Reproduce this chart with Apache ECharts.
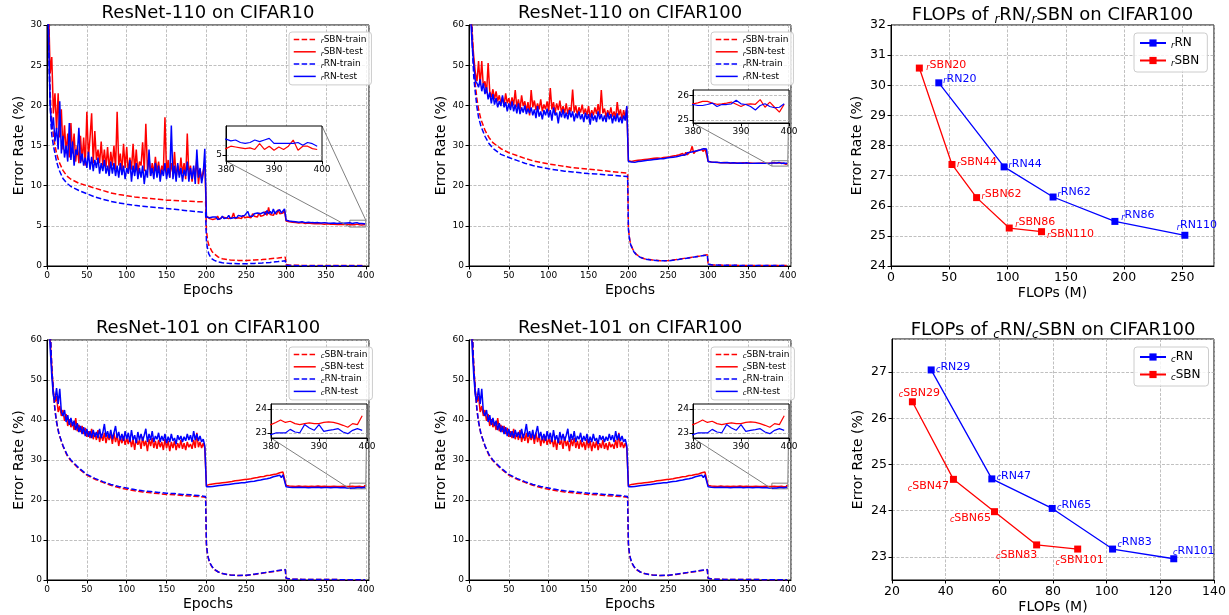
<!DOCTYPE html>
<html><head><meta charset="utf-8">
<script src="https://cdn.jsdelivr.net/npm/echarts@6/dist/echarts.min.js"></script>
<style>html,body{margin:0;padding:0;background:#fff}#c{width:1229px;height:615px}</style>
</head><body><div id="c"></div><script>
const FONT = 'DejaVu Sans';
const RED = '#ff0000', BLUE = '#0000ff';

// ---------- epochs (x categories) ----------
const TEST_EPOCHS = [];
for (let e = 0; e < 200; e += 2) TEST_EPOCHS.push(e);
for (let e = 200; e < 300; e += 2) TEST_EPOCHS.push(e);
for (let e = 300; e < 380; e += 4) TEST_EPOCHS.push(e);
for (let e = 380; e < 400; e++) TEST_EPOCHS.push(e);
const TRAIN_EPOCHS = [0,1,2,3,4,5,6,8,10,12,15,20,25,30,40,50,60,70,80,90,100,110,120,130,140,150,160,170,180,190,199,200,201,202,203,205,207,210,215,220,230,240,250,260,270,280,290,299,300,301,305,320,340,360,380,399];

// ---------- ResNet-110 on CIFAR10 ----------
const A_SBN_TRAIN = [60,40,31,25,21.5,19.5,18,16.3,15.0,14.0,13.0,11.9,11.2,10.8,10.3,10.0,9.7,9.4,9.1,8.9,8.75,8.6,8.5,8.4,8.3,8.2,8.15,8.1,8.05,8.0,8.0,4.5,3.6,3.0,2.6,2.2,1.8,1.5,1.1,0.9,0.75,0.7,0.7,0.75,0.8,0.9,1.0,1.1,0.2,0.12,0.1,0.08,0.07,0.06,0.06,0.05];
const A_RN_TRAIN = [58,38,29,23.5,20,17.8,16.3,15.0,14.0,13.0,12.0,10.9,10.3,9.9,9.4,9.0,8.6,8.3,8.05,7.85,7.7,7.55,7.45,7.35,7.25,7.15,7.05,6.95,6.85,6.75,6.65,3.2,2.4,1.9,1.5,1.15,0.9,0.7,0.5,0.4,0.32,0.28,0.28,0.32,0.38,0.45,0.55,0.65,0.1,0.06,0.05,0.04,0.04,0.03,0.03,0.03];
const A_SBN_TEST = [45,32,24,26,19,21.5,17,21.5,16,19.5,
14.5,17.5,14,16.5,13.5,17.8,14,16.5,13,15,
12.8,16.2,13,16,12.5,19.2,13.5,16,19,12.8,
16.8,13.2,14.5,12.8,15.5,12.5,14.5,12.3,14.8,12.0,
14.2,12.5,15,12,19.2,12.5,14,11.8,15.2,12.2,
14.8,11.5,13.5,12,15.2,11.8,14.5,11.5,13,12.5,
15.4,11.8,17.7,12,13.5,11.2,12.8,11.5,13.6,11.7,
13,11.2,12.5,11.8,18.5,11.5,13.2,11,12.8,11.5,
14.2,11,12.5,11.3,13.5,11.5,12.8,10.8,16.5,11.2,
12.5,10.5,12.2,11,13.5,10.2,12,10.8,11.8,12.7,
6.2,6.0,5.9,6.1,5.8,6.0,5.9,6.2,5.8,6.0,6.1,5.9,6.0,6.2,5.9,6.1,6.0,6.6,5.9,6.1,6.0,6.2,5.9,6.3,6.0,6.2,6.1,6.3,6.0,6.5,6.2,6.4,6.1,6.6,6.2,6.4,6.3,6.8,6.3,7.3,6.4,6.5,6.3,6.7,6.4,7.0,6.5,6.7,6.6,6.9,
5.6,5.5,5.45,5.4,5.35,5.4,5.3,5.35,5.3,5.25,5.3,5.25,5.2,5.25,5.2,5.2,5.15,5.2,5.15,5.2,
5.15,5.21,5.19,5.17,5.15,5.17,5.13,5.27,5.13,5.21,5.11,5.19,5.13,5.21,5.36,5.11,5.21,5.21,5.15,5.13];
const A_RN_TEST = [42,28,20,17,18.5,15.5,17.2,14.5,20.5,14,
16.2,13.5,15,13,17.8,13.2,15.5,12.5,14.5,13.8,
17.2,12.8,14,12.5,13.5,12.2,14.2,12,13.6,11.8,
13.2,12.2,13.5,11.5,12.8,11.8,13.2,11.5,12.5,11.2,
13,11.5,12.8,11.2,12.5,11,12.8,11.3,12.5,10.8,
12.2,11.5,13.2,10.5,12.5,11.2,12.8,10.8,12.2,11,
12.5,10.2,12,11,14.5,11.2,12.2,10.8,12.8,11,
12.5,10.5,12,11.2,12.8,10.8,12.2,11,17.5,10.8,
12.5,10.5,12.8,11,12.2,10.5,12,11.2,13,10.5,
12.2,10.8,12.5,10.2,14.5,11,12.2,10.3,11.5,14.6,
6.1,5.9,6.0,5.8,6.1,5.9,6.1,5.8,6.0,5.9,6.2,5.9,6.1,6.0,6.3,5.9,6.1,6.0,6.2,6.0,6.3,6.1,6.2,6.0,6.3,6.1,6.8,6.2,6.4,6.2,6.5,6.3,6.6,6.4,6.5,6.3,6.7,6.4,6.9,6.5,6.8,6.5,7.1,6.5,6.8,6.6,7.0,6.6,6.8,7.1,
5.7,5.6,5.55,5.5,5.45,5.5,5.4,5.45,5.4,5.38,5.4,5.35,5.4,5.35,5.33,5.36,5.3,5.35,5.32,5.36,
5.38,5.34,5.36,5.30,5.28,5.30,5.36,5.32,5.36,5.40,5.28,5.28,5.28,5.28,5.28,5.30,5.23,5.30,5.27,5.21];

// ---------- ResNet-110 on CIFAR100 ----------
const B_SBN_TRAIN = [95,85,75,66,59,54,50,45,41.5,39,36.5,33.8,32,30.7,29.2,28.2,27.5,26.8,26.2,25.8,25.4,25.1,24.8,24.5,24.3,24.1,23.9,23.7,23.5,23.3,23.1,9.5,7.5,6.2,5.4,4.4,3.6,2.9,2.2,1.8,1.5,1.3,1.35,1.6,1.9,2.2,2.5,2.8,0.5,0.35,0.25,0.2,0.15,0.12,0.1,0.1];
const B_RN_TRAIN = [95,83,72,63,56,51,47,43,39.5,37,34.8,32.3,30.5,29.3,27.8,27.0,26.3,25.6,25.0,24.6,24.2,23.9,23.6,23.4,23.2,23.0,22.9,22.7,22.6,22.4,22.3,9.2,7.3,6.0,5.2,4.3,3.5,2.8,2.15,1.75,1.45,1.3,1.3,1.55,1.85,2.15,2.45,2.75,0.5,0.35,0.25,0.2,0.15,0.12,0.1,0.1];
const B_SBN_TEST = [75,65,57,52,48,46,51,45,51,44.5,
46,43,50.5,43.5,42,44,41.5,43.5,41,42.5,
40.5,42,40,43,40.5,41.8,39.8,42,40,43.8,
39.5,41.5,39,42.5,39.8,41,38.5,40.8,37.5,43.8,
39.5,41.2,38.8,40.5,39,41.5,38.5,40.2,39,41,
38.5,44.3,39,40.8,38,40.5,38.8,41.2,38.2,39.8,
38,40.5,37.8,39.5,38.5,43.9,38.2,40,37.5,39.5,
38.2,40.2,37.8,39.2,37.5,39.8,37,38.8,37.5,39.5,
37.8,40.3,37.5,43.8,38,39.2,37,38.8,37.5,39.5,
37.2,38.5,36.8,40.8,37.5,39,36.5,38.8,37,39.5,
26.2,25.8,26.0,25.9,26.2,26.0,26.3,26.1,26.4,26.2,26.5,26.3,26.6,26.4,26.7,26.5,26.8,26.6,26.9,26.6,26.8,26.7,27.0,26.8,27.1,26.9,27.2,27.0,27.4,27.1,27.5,27.2,27.7,27.4,28.0,27.5,28.3,27.7,28.1,28.6,29.8,28.0,28.5,28.2,28.8,28.4,29.0,28.5,29.3,29.0,
26.1,25.9,25.8,25.75,25.7,25.75,25.7,25.6,25.7,25.65,25.6,25.7,25.6,25.65,25.6,25.55,25.6,25.65,25.55,25.6,
25.65,25.69,25.75,25.75,25.68,25.63,25.65,25.68,25.72,25.63,25.54,25.63,25.65,25.63,25.82,25.51,25.72,25.51,25.31,25.63];
const B_RN_TEST = [72,62,55,50,46,45.5,44.5,46.5,43.5,45.5,
42.8,44.5,41.5,43.2,40.5,42.8,40.2,41.8,39.5,41,
39.8,42.5,39.5,40.8,38.5,40.5,38.8,41,38.5,40.2,
38,40.5,37.8,39.5,38.2,40,37.8,39.2,38,39.5,
37.5,39,36.8,39.8,37.2,38.5,36.5,38.8,37.5,39.2,
37,38.8,36.2,39.5,37.5,38.2,35.5,38.5,37,39,
36.8,38.2,36.5,38.8,37,38.5,36,38,36.8,38.5,
36.5,37.8,35.8,38.2,36.5,37.8,35.2,38,36.2,37.5,
35.8,38.5,36.5,37.8,36,37.5,35.8,38.2,36.5,37.8,
35.5,37.5,36,38,35.8,37.2,35.5,37.5,36.2,39.8,
26.0,25.6,25.9,26.1,25.8,26.2,26.0,26.3,26.1,26.4,26.2,26.5,26.3,26.6,26.4,26.7,26.5,26.8,26.6,26.9,26.7,26.9,26.7,27.0,26.9,27.1,27.0,27.3,27.1,27.4,27.2,27.6,27.4,27.8,27.6,28.0,27.7,28.2,27.9,28.3,28.0,28.5,28.2,28.7,28.4,28.9,28.6,29.2,29.5,29.1,
26.0,25.9,25.85,25.8,25.7,25.7,25.75,25.65,25.7,25.6,25.65,25.6,25.7,25.6,25.55,25.6,25.6,25.55,25.6,25.55,
25.62,25.58,25.58,25.62,25.68,25.54,25.62,25.62,25.65,25.79,25.65,25.62,25.54,25.40,25.58,25.65,25.54,25.49,25.51,25.65];

// ---------- ResNet-101 on CIFAR100 ----------
const C_SBN_TRAIN = [95,88,80,72,64,58,53,47,42.5,39.5,36.5,33.5,31.2,29.8,27.8,26.2,25.2,24.4,23.7,23.1,22.7,22.3,22.0,21.8,21.6,21.4,21.3,21.1,21.0,20.9,20.7,9.0,7.0,5.8,5.0,4.0,3.3,2.6,2.0,1.6,1.25,1.1,1.15,1.4,1.7,2.0,2.3,2.55,0.45,0.3,0.22,0.15,0.12,0.1,0.08,0.08];
const C_RN_TRAIN = [95,88,80,72,64,58,53,47,42.5,39.5,36.5,33.6,31.4,30.0,28.0,26.4,25.4,24.6,23.9,23.4,23.0,22.6,22.3,22.1,21.9,21.7,21.6,21.4,21.3,21.1,20.9,9.2,7.1,5.9,5.1,4.1,3.35,2.65,2.0,1.6,1.25,1.1,1.2,1.45,1.75,2.05,2.35,2.6,0.45,0.3,0.22,0.15,0.12,0.1,0.08,0.08];
const C_SBN_TEST = [80,70,60,53,47,44.5,46,42,43.5,41,
42.5,39.8,41.5,38.5,40.2,38.2,39.5,37.5,40.5,37.2,
38.8,37,38.5,36.5,38,35.8,37.2,35.5,37.8,35.2,
36.8,35,37.5,34.5,36.5,34.8,36.8,34.2,36.2,35,
36.5,34,36.8,34.5,36.2,33.5,35.8,34.2,36,33.8,
35.5,34,35.8,33.2,35.2,32.5,35.5,33.8,35,32.8,
35.8,33.5,34.8,32.2,35.2,33.5,35.5,33,34.8,32.8,
35,33.2,34.5,32.5,35.2,33,34.8,32.2,34.5,33,
34.8,32.5,34.2,33,35,32.8,34.2,32.5,34.5,33.2,
34,32.8,35,33,36.8,33.2,34.5,33,34.2,33,
23.6,23.5,23.9,23.7,24.0,23.8,24.1,23.9,24.2,24.0,24.3,24.1,24.4,24.2,24.5,24.3,24.6,24.4,24.8,24.5,24.9,24.7,25.0,24.8,25.1,24.9,25.2,25.0,25.3,25.1,25.5,25.2,25.6,25.4,25.8,25.5,25.9,25.6,26.1,25.7,26.2,25.9,26.4,26.0,26.5,26.2,26.8,26.3,27.0,26.6,
23.6,23.5,23.45,23.4,23.5,23.4,23.45,23.35,23.45,23.4,23.5,23.4,23.45,23.35,23.4,23.45,23.4,23.35,23.45,23.4,
23.35,23.44,23.54,23.44,23.49,23.39,23.35,23.39,23.42,23.39,23.39,23.44,23.46,23.44,23.39,23.32,23.24,23.39,23.35,23.72];
const C_RN_TEST = [78,68,58,51,46,45,48,44,47.8,42,
41,42.5,39.5,41.2,38.8,40.5,38.5,39.8,37.5,39.2,
37,38.5,36.5,38.2,36,37.8,35.8,37.2,35.5,37.5,
35.8,37,35.5,37.8,35.5,36.8,39,35.8,37.2,35.5,
37.5,35.2,36.8,38.5,35.5,37,35,36.5,34.8,37.2,
35.2,36.8,34.5,37.5,35,36.2,34.2,37,35,36.5,
34.8,36.2,37.8,34.5,36.5,35,37.2,34.5,36,35.2,
36.8,34.5,36,34.8,36.5,34.2,35.8,34.5,36.5,34.8,
35.5,34,36.2,35,36,34.5,35.8,34.8,36.5,35,
36.2,34.5,37.2,35,36.5,34.8,36,34.5,35.2,33.5,
23.3,23.1,23.3,23.2,23.4,23.2,23.5,23.3,23.6,23.4,23.7,23.5,23.8,23.6,23.9,23.7,24.0,23.8,24.1,23.9,24.2,24.0,24.3,24.1,24.3,24.2,24.5,24.3,24.6,24.4,24.7,24.5,24.9,24.6,25.0,24.8,25.2,24.9,25.3,25.0,25.5,25.2,25.8,25.3,26.0,25.5,26.2,25.6,26.3,25.9,
23.3,23.2,23.15,23.1,23.2,23.1,23.15,23.05,23.15,23.1,23.2,23.05,23.1,23.15,23.05,23.1,23.15,23.05,23.1,23.0,
22.93,23.0,23.0,23.0,23.15,23.04,23.01,23.35,23.21,23.11,23.35,23.07,23.11,23.14,23.18,23.04,22.97,23.11,23.18,23.11];

// ---------- FLOPs plots ----------
const R_RN_NAMES = ['20','44','62','86','110'];
const R_RN_FLOPS = [41, 97, 139, 192, 252];
const R_RN_ERR = [30.08, 27.29, 26.29, 25.48, 25.02];
const R_SBN_NAMES = ['20','44','62','86','110'];
const R_SBN_FLOPS = [24.3, 52.3, 73.4, 101.4, 129.1];
const R_SBN_ERR = [30.57, 27.37, 26.27, 25.26, 25.14];
const C_RN_NAMES = ['29','47','65','83','101'];
const C_RN_FLOPS = [34.6, 57.2, 79.7, 102.2, 125.0];
const C_RN_ERR = [27.05, 24.69, 24.05, 23.17, 22.96];
const C_SBN_NAMES = ['29','47','65','83','101'];
const C_SBN_FLOPS = [27.6, 42.9, 58.2, 73.9, 89.2];
const C_SBN_ERR = [26.36, 24.68, 23.98, 23.26, 23.17];

// label offsets (style)
const R_RN_LABEL_OFF = [[21,-4],[21,-3],[21,-5],[23,-6],[12,-10]];
const R_SBN_LABEL_OFF = [[27,-3],[25,-2],[25,-3],[26,-6],[29,2]];
const C_RN_LABEL_OFF = [[22,-3],[22,-3],[22,-3],[22,-7],[20,-8]];
const C_SBN_LABEL_OFF = [[7,-9],[-25,7],[-24,6],[-20,10],[2,11]];

// ---------- helpers ----------
const pts = (xs, ys) => xs.map((x, i) => [x, ys[i]]);
function rich(fs, sfs, L, h) {
  return {
    s: {fontSize: sfs, fontStyle: 'italic', fontFamily: FONT, lineHeight: h, verticalAlign: 'bottom'},
    t: {fontSize: fs, fontFamily: FONT, lineHeight: L}
  };
}
const grids = [], xAxes = [], yAxes = [], series = [], legends = [], titles = [];
const GRID_LINE = {color: '#b0b0b0', width: 0.8, type: [3, 1.5]};
function mkAxis(gi, o) {
  const ax = {
    type: 'value', gridIndex: gi, min: o.min, max: o.max, z: o.z || 0,
    axisLine: {show: true, onZero: false, lineStyle: {color: '#000', width: 1}},
    axisTick: {show: true, length: 3.5, lineStyle: {color: '#000', width: 1}},
    axisLabel: {show: true, color: '#000', fontFamily: FONT, fontSize: o.fs, margin: o.margin},
    splitLine: {show: o.split !== false, lineStyle: GRID_LINE},
  };
  if (o.interval != null) ax.interval = o.interval;
  if (o.splitNumber != null) ax.splitNumber = o.splitNumber;
  if (o.ticks) { ax.axisTick.customValues = o.ticks; ax.axisLabel.customValues = o.ticks; }
  if (o.hideMax) ax.axisLabel.showMaxLabel = false;
  if (o.hideMin) ax.axisLabel.showMinLabel = false;
  if (o.name) {
    ax.name = o.name; ax.nameLocation = 'middle'; ax.nameGap = o.nameGap;
    ax.nameTextStyle = {color: '#000', fontFamily: FONT, fontSize: o.nameSize || 14};
  }
  return ax;
}
function addTitle(text, cx, top) {
  titles.push({
    text: text, left: cx, top: top, textAlign: 'center', padding: 0,
    textStyle: {color: '#000', fontFamily: FONT, fontSize: 18, fontWeight: 'normal', rich: rich(18, 12, 22, 15)}
  });
}

// ---------- curve plots ----------
const DATA_A = {sbnTrain: A_SBN_TRAIN, sbnTest: A_SBN_TEST, rnTrain: A_RN_TRAIN, rnTest: A_RN_TEST};
const DATA_B = {sbnTrain: B_SBN_TRAIN, sbnTest: B_SBN_TEST, rnTrain: B_RN_TRAIN, rnTest: B_RN_TEST};
const DATA_C = {sbnTrain: C_SBN_TRAIN, sbnTest: C_SBN_TEST, rnTrain: C_RN_TRAIN, rnTest: C_RN_TEST};

const CURVE_PLOTS = [
  {id: 'p1', title: 'ResNet-110 on CIFAR10', sub: 'r', d: DATA_A, yMax: 30, yInt: 5,
   grid: {left: 47, top: 25, width: 322, height: 241}, titleTop: 4,
   inset: {left: 226, top: 126, width: 96, height: 35}, insetY: [4.85, 5.7], insetTicks: [5],
   legend: {left: 289, top: 32}},
  {id: 'p2', title: 'ResNet-110 on CIFAR100', sub: 'r', d: DATA_B, yMax: 60, yInt: 10,
   grid: {left: 469, top: 25, width: 322, height: 241}, titleTop: 4,
   inset: {left: 693, top: 90, width: 96, height: 33}, insetY: [24.87, 26.21], insetTicks: [25, 26],
   legend: {left: 711, top: 32}},
  {id: 'p4', title: 'ResNet-101 on CIFAR100', sub: 'c', d: DATA_C, yMax: 60, yInt: 10,
   grid: {left: 47, top: 340, width: 322, height: 240}, titleTop: 319,
   inset: {left: 271, top: 404, width: 96, height: 34}, insetY: [22.79, 24.21], insetTicks: [23, 24],
   legend: {left: 289, top: 347}},
  {id: 'p5', title: 'ResNet-101 on CIFAR100', sub: 'c', d: DATA_C, yMax: 60, yInt: 10,
   grid: {left: 469, top: 340, width: 322, height: 240}, titleTop: 319,
   inset: {left: 693, top: 404, width: 96, height: 34}, insetY: [22.79, 24.21], insetTicks: [23, 24],
   legend: {left: 711, top: 347}},
];

const insetLinks = [];
CURVE_PLOTS.forEach(p => {
  const gi = grids.length;
  grids.push(Object.assign({show: true, borderColor: '#000', borderWidth: 1, backgroundColor: 'rgba(0,0,0,0)', containLabel: false, outerBoundsMode: 'none'}, p.grid));
  xAxes.push(mkAxis(gi, {min: 0, max: 404, interval: 50, fs: 9, margin: 5, hideMax: true, name: 'Epochs', nameGap: 17}));
  yAxes.push(mkAxis(gi, {min: 0, max: p.yMax, interval: p.yInt, fs: 9, margin: 5, name: 'Error Rate (%)', nameGap: 21}));
  addTitle(p.title, p.grid.left + p.grid.width / 2, p.titleTop);
  const base = {type: 'line', xAxisIndex: gi, yAxisIndex: gi, symbol: 'none', showSymbol: false, silent: true, animation: false, z: 2};
  const names = ['SBN-train', 'SBN-test', 'RN-train', 'RN-test'].map(n => p.id + ':' + n);
  series.push(Object.assign({}, base, {name: names[0], data: pts(TRAIN_EPOCHS, p.d.sbnTrain), lineStyle: {color: RED, width: 1.5, type: [5.5, 2.4]}, itemStyle: {color: RED}}));
  series.push(Object.assign({}, base, {name: names[1], data: pts(TEST_EPOCHS, p.d.sbnTest), lineStyle: {color: RED, width: 1.5}, itemStyle: {color: RED},
    markArea: {silent: true, itemStyle: {color: 'rgba(0,0,0,0)', borderColor: '#808080', borderWidth: 1}, label: {show: false},
      data: [[{coord: [380, p.insetY[0]]}, {coord: [400, p.insetY[1]]}]]}}));
  series.push(Object.assign({}, base, {name: names[2], data: pts(TRAIN_EPOCHS, p.d.rnTrain), lineStyle: {color: BLUE, width: 1.5, type: [5.5, 2.4]}, itemStyle: {color: BLUE}}));
  series.push(Object.assign({}, base, {name: names[3], data: pts(TEST_EPOCHS, p.d.rnTest), lineStyle: {color: BLUE, width: 1.5}, itemStyle: {color: BLUE}}));
  legends.push({
    show: true, orient: 'vertical', left: p.legend.left, top: p.legend.top, data: names,
    itemWidth: 22, itemHeight: 9, itemGap: 2.3, padding: [3, 5, 3, 4],
    backgroundColor: 'rgba(255,255,255,0.8)', borderColor: '#cccccc', borderWidth: 1, borderRadius: 3,
    selectedMode: false, z: 6,
    itemStyle: {opacity: 0, borderWidth: 0},
    lineStyle: {width: 1.5},
    formatter: n => '{s|' + p.sub + '}{t|' + n.split(':')[1] + '}',
    textStyle: {color: '#000', fontFamily: FONT, fontSize: 9, rich: rich(9, 7, 11, 7.6)}
  });
  // inset
  const ii = grids.length;
  grids.push(Object.assign({show: true, borderColor: '#000', borderWidth: 1, backgroundColor: '#ffffff', z: 5, containLabel: false, outerBoundsMode: 'none'}, p.inset));
  xAxes.push(mkAxis(ii, {min: 380, max: 400, interval: 10, fs: 9, margin: 4, z: 6, split: false}));
  yAxes.push(mkAxis(ii, {min: p.insetY[0], max: p.insetY[1], ticks: p.insetTicks, fs: 9, margin: 4, z: 6}));
  const ib = {type: 'line', xAxisIndex: ii, yAxisIndex: ii, symbol: 'none', showSymbol: false, silent: true, animation: false, z: 7};
  series.push(Object.assign({}, ib, {name: p.id + ':inset-sbn', data: pts(TEST_EPOCHS, p.d.sbnTest), lineStyle: {color: RED, width: 1.2}}));
  series.push(Object.assign({}, ib, {name: p.id + ':inset-rn', data: pts(TEST_EPOCHS, p.d.rnTest), lineStyle: {color: BLUE, width: 1.2}}));
  insetLinks.push({main: gi, inset: ii, y0: p.insetY[0], y1: p.insetY[1]});
});

// ---------- FLOPs plots ----------
const FLOP_PLOTS = [
  {id: 'p3', title: '{t|FLOPs of }{s|r}{t|RN/}{s|r}{t|SBN on CIFAR100}', sub: 'r',
   grid: {left: 891, top: 25, width: 323, height: 241}, titleTop: 4,
   x: {min: 0, max: 277, interval: 50, hideMax: true}, y: {min: 24, max: 32, interval: 1},
   rn: {x: R_RN_FLOPS, y: R_RN_ERR, n: R_RN_NAMES, off: R_RN_LABEL_OFF},
   sbn: {x: R_SBN_FLOPS, y: R_SBN_ERR, n: R_SBN_NAMES, off: R_SBN_LABEL_OFF},
   legend: {left: 1134, top: 33}},
  {id: 'p6', title: '{t|FLOPs of }{s|c}{t|RN/}{s|c}{t|SBN on CIFAR100}', sub: 'c',
   grid: {left: 892, top: 339, width: 322, height: 241}, titleTop: 319,
   x: {min: 20, max: 140, interval: 20}, y: {min: 22.5, max: 27.72, splitNumber: 5, hideMin: true, hideMax: true},
   rn: {x: C_RN_FLOPS, y: C_RN_ERR, n: C_RN_NAMES, off: C_RN_LABEL_OFF},
   sbn: {x: C_SBN_FLOPS, y: C_SBN_ERR, n: C_SBN_NAMES, off: C_SBN_LABEL_OFF},
   legend: {left: 1134, top: 347}},
];
FLOP_PLOTS.forEach(p => {
  const gi = grids.length;
  grids.push(Object.assign({show: true, borderColor: '#000', borderWidth: 1, backgroundColor: 'rgba(0,0,0,0)', containLabel: false, outerBoundsMode: 'none'}, p.grid));
  xAxes.push(mkAxis(gi, Object.assign({fs: 12.5, margin: 5, name: 'FLOPs (M)', nameGap: 20}, p.x)));
  yAxes.push(mkAxis(gi, Object.assign({fs: 12.5, margin: 5, name: 'Error Rate (%)', nameGap: 27}, p.y)));
  addTitle(p.title, p.grid.left + p.grid.width / 2, p.titleTop);
  const mk = (s, key, color) => ({
    type: 'line', name: p.id + ':' + key, xAxisIndex: gi, yAxisIndex: gi, symbol: 'rect', symbolSize: 7,
    silent: true, animation: false, z: 3,
    lineStyle: {color: color, width: 1.3}, itemStyle: {color: color},
    data: s.x.map((x, i) => ({value: [x, s.y[i]], name: s.n[i], label: {offset: s.off[i]}})),
    label: {show: true, position: 'inside', color: color, fontFamily: FONT, fontSize: 11,
      formatter: q => '{s|' + p.sub + '}{t|' + key + q.name + '}', rich: rich(11, 8, 13, 8.6)}
  });
  series.push(mk(p.rn, 'RN', BLUE));
  series.push(mk(p.sbn, 'SBN', RED));
  legends.push({
    show: true, orient: 'vertical', left: p.legend.left, top: p.legend.top, data: [p.id + ':RN', p.id + ':SBN'],
    itemWidth: 26, itemHeight: 9, itemGap: 4, padding: [4, 8, 4, 5],
    backgroundColor: 'rgba(255,255,255,0.8)', borderColor: '#cccccc', borderWidth: 1, borderRadius: 3,
    selectedMode: false, z: 6,
    formatter: n => '{s|' + p.sub + '}{t|' + n.split(':')[1] + '}',
    textStyle: {color: '#000', fontFamily: FONT, fontSize: 12, rich: rich(12, 8.5, 15, 9.8)}
  });
});

const chart = echarts.init(document.getElementById('c'), null, {renderer: 'canvas'});
chart.setOption({
  animation: false, backgroundColor: '#ffffff',
  title: titles, grid: grids, xAxis: xAxes, yAxis: yAxes, legend: legends, series: series
});
// connector lines between inset and zoomed region
const gfx = [];
insetLinks.forEach(l => {
  const a1 = chart.convertToPixel({gridIndex: l.main}, [380, l.y0]);
  const b1 = chart.convertToPixel({gridIndex: l.inset}, [380, l.y0]);
  const a2 = chart.convertToPixel({gridIndex: l.main}, [400, l.y1]);
  const b2 = chart.convertToPixel({gridIndex: l.inset}, [400, l.y1]);
  [[a1, b1], [a2, b2]].forEach(([a, b]) => gfx.push({type: 'line', silent: true, z: 4,
    shape: {x1: a[0], y1: a[1], x2: b[0], y2: b[1]}, style: {stroke: '#808080', lineWidth: 1}}));
});
chart.setOption({graphic: gfx});
</script></body></html>
